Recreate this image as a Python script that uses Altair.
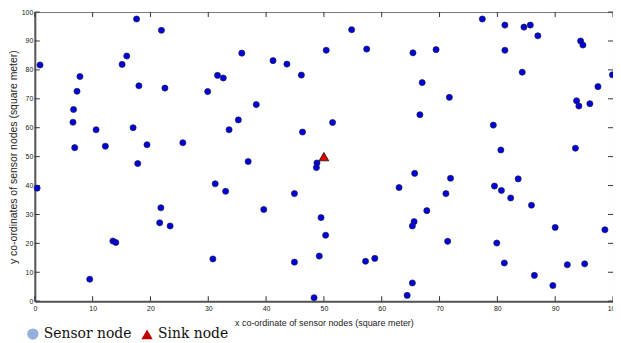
import altair as alt
import pandas as pd

# Sensor node positions (x, y)
sensor_x = [0.9, 6.7, 6.6, 6.9, 7.3, 7.8, 10.6, 12.2, 15.1, 15.9,
            17.6, 18.0, 17.0, 19.4, 21.9, 22.5, 25.6, 29.9, 31.6, 32.6,
            33.6, 35.8, 38.3, 35.2, 41.2, 43.6, 46.1, 50.4, 54.8, 57.4,
            65.4, 67.0, 66.6, 51.5, 46.3, 36.9, 69.4, 71.7, 77.4, 81.3,
            81.3, 84.6, 85.7, 87.0, 84.3, 79.3, 80.6, 93.5, 94.4, 94.8,
            99.9, 97.4, 93.7, 94.1, 96.0, 0.4, 9.5, 13.5, 14.0, 17.8,
            21.8, 21.6, 23.4, 31.2, 33.0, 30.8, 39.6, 44.9, 48.8, 48.7,
            49.5, 50.3, 49.2, 44.9, 48.3, 57.2, 58.8, 63.0, 65.7, 65.6,
            65.3, 65.3, 64.4, 71.9, 71.1, 67.8, 71.4, 79.5, 80.7, 82.3,
            83.6, 85.9, 90.0, 98.6, 79.9, 81.2, 86.4, 89.6, 92.1, 95.1]
sensor_y = [81.7, 66.3, 61.9, 53.1, 72.6, 77.7, 59.3, 53.6, 81.9, 84.8,
            97.6, 74.5, 60.0, 54.1, 93.7, 73.7, 54.8, 72.5, 78.1, 77.2,
            59.3, 85.8, 68.0, 62.7, 83.2, 82.0, 78.2, 86.8, 93.9, 87.2,
            85.9, 75.6, 64.5, 61.8, 58.5, 48.3, 87.0, 70.5, 97.6, 95.5,
            86.8, 94.8, 95.5, 91.8, 79.2, 60.9, 52.3, 52.9, 90.0, 88.6,
            78.3, 74.2, 69.3, 67.5, 68.3, 39.1, 7.6, 20.8, 20.3, 47.6,
            32.3, 27.1, 26.0, 40.6, 38.0, 14.6, 31.7, 37.2, 47.8, 46.2,
            28.9, 22.8, 15.6, 13.5, 1.2, 13.8, 14.8, 39.3, 44.2, 27.5,
            26.0, 6.3, 2.0, 42.5, 37.2, 31.3, 20.7, 39.8, 38.3, 35.7,
            42.3, 33.2, 25.5, 24.7, 20.1, 13.2, 8.9, 5.4, 12.6, 12.9]
sink_x = [50.0]
sink_y = [50.0]
node_types = ["Sensor node", "Sink node"]
tick_values = [0, 10, 20, 30, 40, 50, 60, 70, 80, 90, 100]

W, H = 582, 291

df = pd.DataFrame({
    "x": sensor_x + sink_x,
    "y": sensor_y + sink_y,
    "node": [node_types[0]] * len(sensor_x) + [node_types[1]] * len(sink_x),
})
sensors = pd.DataFrame({"x": sensor_x, "y": sensor_y})
sink = pd.DataFrame({"x": sink_x, "y": sink_y})
ticks = pd.DataFrame({"v": tick_values})

xs = alt.Scale(domain=[0, 100], nice=False, zero=False)
ys = alt.Scale(domain=[0, 100], nice=False, zero=False)

X_TITLE = "x co-ordinate of sensor nodes (square meter)"
Y_TITLE = "y co-ordinates of sensor nodes (square meter)"

axis_common = dict(values=tick_values, ticks=False, grid=False,
                   labelFont="Liberation Sans", labelFontSize=7, labelColor="#222",
                   domainColor="#555", domainWidth=2,
                   titleFont="Liberation Sans", titleFontWeight="normal", titleColor="#222")

x_axis = alt.Axis(title=X_TITLE, labelPadding=3,
                  titleFontSize=9, titlePadding=8, labelFlush=False, **axis_common)
y_axis = alt.Axis(title=Y_TITLE, labelPadding=2,
                  titleFontSize=10.5, titlePadding=3, labelFlush=False, **axis_common)


def X(field):
    return alt.X(field, scale=xs, axis=x_axis, title=X_TITLE)


def Y(field):
    return alt.Y(field, scale=ys, axis=y_axis, title=Y_TITLE)


SERIF = "DejaVu Serif"

legend_layer = alt.Chart(df).mark_point(filled=True, size=1, opacity=1).encode(
    x=X("x:Q"),
    y=Y("y:Q"),
    fill=alt.Fill("node:N", scale=alt.Scale(domain=node_types, range=["#93b1dc", "#c00000"]), title=None),
    shape=alt.Shape("node:N", scale=alt.Scale(domain=node_types, range=["circle", "triangle-up"]), title=None),
)

sensor_layer = alt.Chart(sensors).mark_point(
    filled=True, shape="circle", size=38, fill="#0000dc", stroke="#202040", strokeWidth=0.7, opacity=1
).encode(x=X("x:Q"), y=Y("y:Q"))

sink_layer = alt.Chart(sink).mark_point(
    filled=True, shape="triangle-up", size=95, fill="#e00000", stroke="#111", strokeWidth=0.8, opacity=1
).encode(x=X("x:Q"), y=Y("y:Q"))

tick_col = "#333"
bottom_ticks = alt.Chart(ticks).mark_rule(color=tick_col, strokeWidth=1).encode(
    x=X("v:Q"), y=alt.value(H), y2=alt.value(H - 5))
top_ticks = alt.Chart(ticks).mark_rule(color=tick_col, strokeWidth=1).encode(
    x=X("v:Q"), y=alt.value(0), y2=alt.value(5))
left_ticks = alt.Chart(ticks).mark_rule(color=tick_col, strokeWidth=1).encode(
    y=Y("v:Q"), x=alt.value(0), x2=alt.value(5))
right_ticks = alt.Chart(ticks).mark_rule(color=tick_col, strokeWidth=1).encode(
    y=Y("v:Q"), x=alt.value(W), x2=alt.value(W - 5))

chart = alt.layer(
    legend_layer, bottom_ticks, top_ticks, left_ticks, right_ticks, sensor_layer, sink_layer
).properties(
    width=W, height=H,
    autosize=alt.AutoSizeParams(type="none"),
    padding={"left": 27, "top": 3, "right": 0, "bottom": 40},
    background="white",
).configure_view(
    stroke="#777", strokeWidth=1
).configure_legend(
    orient="none", legendX=-9, legendY=317, direction="horizontal",
    labelFont=SERIF, labelFontSize=14, labelColor="#111", labelLimit=300,
    symbolSize=130, symbolStrokeColor="#555", symbolStrokeWidth=1, symbolOpacity=1,
    columnPadding=7, padding=0, labelOffset=4, titlePadding=0
)

chart.save("out.html", embed_options={"renderer": "svg", "actions": False})
